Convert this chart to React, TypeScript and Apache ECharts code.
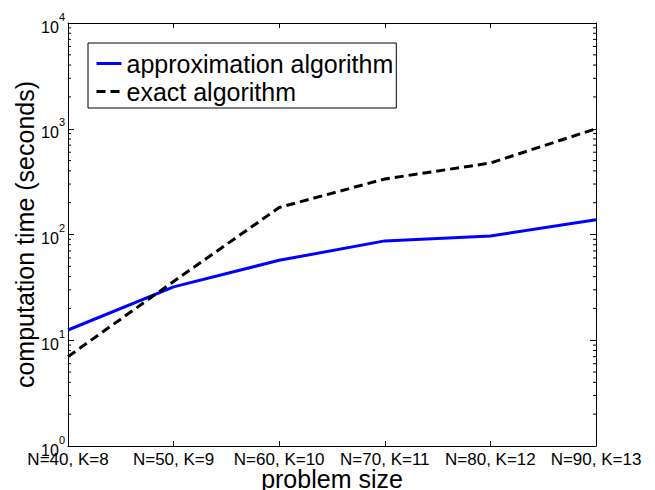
import React, { useEffect, useRef } from "react";
import * as echarts from "echarts";

const categories = ["N=40, K=8", "N=50, K=9", "N=60, K=10", "N=70, K=11", "N=80, K=12", "N=90, K=13"];
const approxTimes = [12.5, 32, 57, 87, 97, 138];
const exactTimes = [7, 36, 180, 335, 474, 1000];
const decades = [1, 10, 100, 1000];
const minorMultipliers = [2, 3, 4, 5, 6, 7, 8, 9];
const yMin = 1;
const yMax = 10000;

const FONT = "Liberation Sans, Arial, Helvetica, sans-serif";

export default function App() {
  const ref = useRef<HTMLDivElement>(null);
  useEffect(() => {
    if (!ref.current) return;
    const chart = echarts.init(ref.current, undefined, { renderer: "svg" });
    const minorData: number[][] = [];
    decades.forEach((d) => minorMultipliers.forEach((m) => minorData.push([0, d * m])));

    chart.setOption({
      animation: false,
      backgroundColor: "#ffffff",
      textStyle: { fontFamily: FONT, color: "#000" },
      grid: { left: 68, right: 59, top: 23, bottom: 44, outerBoundsMode: "none", containLabel: false },
      legend: {
        orient: "vertical",
        left: 88,
        top: 43,
        data: ["approximation algorithm", "exact algorithm"],
        backgroundColor: "#fff",
        borderColor: "#000",
        borderWidth: 1,
        borderRadius: 0,
        padding: [8, 3, 4, 7],
        itemGap: 3,
        itemWidth: 25,
        itemHeight: 14,
        itemStyle: { opacity: 0 },
        lineStyle: { width: 3 },
        textStyle: { fontSize: 25, fontFamily: FONT, color: "#000" },
      },
      xAxis: [
        {
          type: "category",
          data: categories,
          boundaryGap: false,
          position: "bottom",
          name: "problem size",
          nameLocation: "middle",
          nameGap: 20,
          nameMoveOverlap: false,
          nameTextStyle: { fontSize: 25, fontFamily: FONT, color: "#000" },
          axisLine: { lineStyle: { color: "#000", width: 1 } },
          axisTick: { show: true, inside: true, length: 5, lineStyle: { color: "#000", width: 1 } },
          axisLabel: { interval: 0, fontSize: 17, margin: 5, color: "#000", fontFamily: FONT },
          splitLine: { show: false },
        },
        {
          type: "category",
          data: categories,
          boundaryGap: false,
          position: "top",
          axisLine: { lineStyle: { color: "#000", width: 1 } },
          axisTick: { show: true, inside: true, length: 5, lineStyle: { color: "#000", width: 1 } },
          axisLabel: { show: false },
          splitLine: { show: false },
        },
      ],
      yAxis: [
        {
          type: "log",
          logBase: 10,
          min: yMin,
          max: yMax,
          position: "left",
          name: "computation time (seconds)",
          nameLocation: "middle",
          nameGap: 31,
          nameMoveOverlap: false,
          nameTextStyle: { fontSize: 25, fontFamily: FONT, color: "#000" },
          axisLine: { show: true, lineStyle: { color: "#000", width: 1 } },
          axisTick: { show: true, inside: true, length: 6, lineStyle: { color: "#000", width: 1 } },
          axisLabel: {
            margin: 3,
            color: "#000",
            formatter: (v: number) => `{b|10}{s|${Math.round(Math.log10(v))}}`,
            rich: {
              b: { fontSize: 16, fontFamily: FONT, color: "#000", lineHeight: 24, verticalAlign: "bottom" },
              s: { fontSize: 11, fontFamily: FONT, color: "#000", lineHeight: 12, verticalAlign: "top" },
            },
          },
          splitLine: { show: false },
        },
        {
          type: "log",
          logBase: 10,
          min: yMin,
          max: yMax,
          position: "right",
          axisLine: { show: true, lineStyle: { color: "#000", width: 1 } },
          axisTick: { show: true, inside: true, length: 6, lineStyle: { color: "#000", width: 1 } },
          axisLabel: { show: false },
          splitLine: { show: false },
        },
      ],
      series: [
        {
          name: "minor ticks",
          type: "custom",
          xAxisIndex: 0,
          yAxisIndex: 0,
          silent: true,
          clip: false,
          data: minorData,
          renderItem: (params: any, api: any) => {
            const v = api.value(1);
            const y = api.coord([0, v])[1];
            const cs = params.coordSys;
            const st = { stroke: "#000", lineWidth: 1 };
            return {
              type: "group",
              children: [
                { type: "line", shape: { x1: cs.x, y1: y, x2: cs.x + 3, y2: y }, style: st },
                { type: "line", shape: { x1: cs.x + cs.width - 3, y1: y, x2: cs.x + cs.width, y2: y }, style: st },
              ],
            };
          },
        },
        {
          name: "approximation algorithm",
          type: "line",
          data: approxTimes,
          symbol: "none",
          lineStyle: { color: "#0000ff", width: 3 },
          itemStyle: { color: "#0000ff" },
          z: 3,
        },
        {
          name: "exact algorithm",
          type: "line",
          data: exactTimes,
          symbol: "none",
          lineStyle: { color: "#000000", width: 3, type: [9, 5] },
          itemStyle: { color: "#000000" },
          z: 4,
        },
      ],
    });
    return () => chart.dispose();
  }, []);
  return <div ref={ref} style={{ width: 655, height: 490, position: "absolute", left: 0, top: 0 }} />;
}
